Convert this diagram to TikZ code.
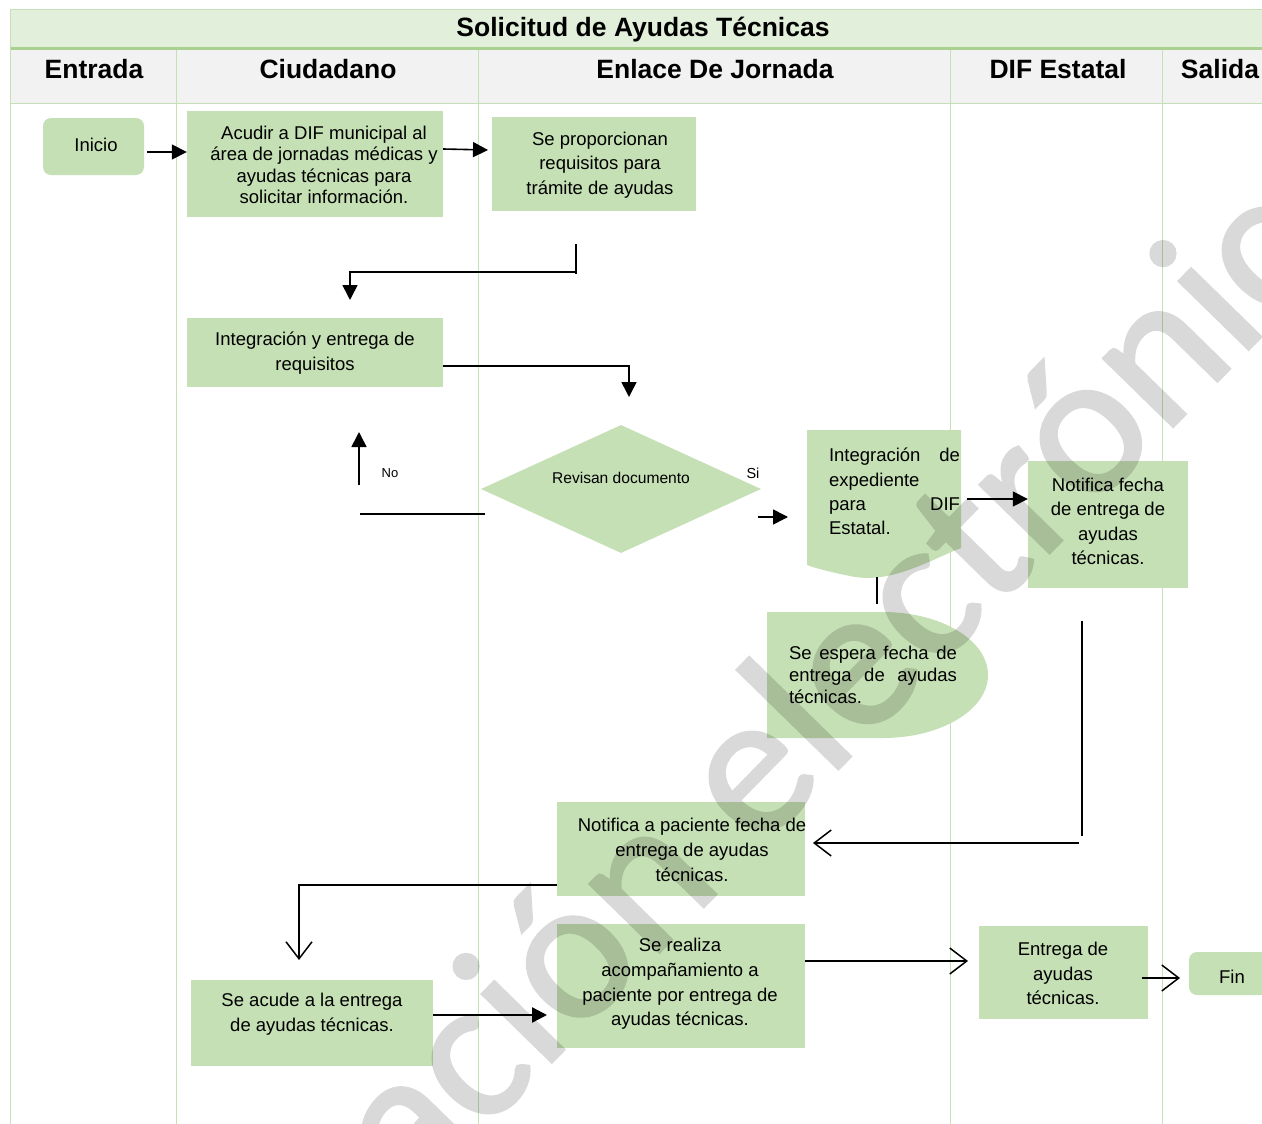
\documentclass[tikz,border=0pt]{standalone}
\usepackage{fontspec}
\setmainfont{Liberation Sans}
\newfontfamily\wmfont[FakeBold=1.3]{Carlito}
\usetikzlibrary{arrows.meta,shapes.geometric}
\definecolor{boxgreen}{HTML}{C5E0B4}
\definecolor{titlegreen}{HTML}{E2EFDA}
\definecolor{rulegreen}{HTML}{A9D08E}
\definecolor{gridgreen}{HTML}{C5E0B4}
\definecolor{headgray}{HTML}{F2F2F2}

\begin{document}
\begin{tikzpicture}[x=1pt,y=-1pt,
  box/.style={rectangle,fill=boxgreen,draw=none,inner sep=0pt},
  rbox/.style={box,rounded corners=8pt},
  txt/.style={inner sep=0pt,align=center,font=\fontsize{18.5}{24.5}\selectfont},
  head/.style={inner sep=0pt,anchor=base,font=\bfseries\fontsize{26.5}{30}\selectfont},
  grid/.style={draw=gridgreen,line width=1pt},
  ln/.style={line width=1.6pt},
  fa/.style={ln,-{Triangle[length=15pt,width=15pt]}},
  oa/.style={line width=1.5pt,-{Straight Barb[length=17pt,width=26pt]}},
  wmtext/.style={anchor=base west,rotate=45.65,inner sep=0pt,text=black,
    font=\wmfont\fontsize{204.5}{240}\selectfont},
]
\useasboundingbox (0,0) rectangle (1262,1124);
\fill[white] (0,0) rectangle (1262,1124);

% table frame: title band, header row, lane separators
\fill[titlegreen] (10,10) rectangle (1262,48);
\fill[headgray] (10,50) rectangle (1262,104);
\draw[grid] (10,10) -- (1262,10);
\draw[rulegreen,line width=3pt] (10,49) -- (1262,49);
\draw[grid] (10,104) -- (1262,104);
\draw[grid] (10,10) -- (10,1124);
\foreach \x in {176,478,950,1162} \draw[grid] (\x,50) -- (\x,1124);

\node[head] (title) at (643,37) {Solicitud de Ayudas Técnicas};
\node[head] (h1) at (94,79) {Entrada};
\node[head] (h2) at (328,79) {Ciudadano};
\node[head] (h3) at (715,79) {Enlace De Jornada};
\node[head] (h4) at (1058,79) {DIF Estatal};
\node[head] (h5) at (1220,79) {Salida};

% process boxes
\node[rbox,minimum width=101pt,minimum height=57pt] (inicio) at (93.5,146.5) {};
\node[txt] at (96,145) {Inicio};

\node[box,minimum width=256pt,minimum height=106pt] (acudir) at (315,164) {};
\node[txt,font=\fontsize{18.5}{21.3}\selectfont] at (324,165)
  {Acudir a DIF municipal al\\área de jornadas médicas y\\ayudas técnicas para\\solicitar información.};

\node[box,minimum width=204pt,minimum height=94pt] (propor) at (594,164) {};
\node[txt] at (600,165) {Se proporcionan\\requisitos para\\trámite de ayudas};

\node[box,minimum width=256pt,minimum height=69pt] (integ) at (315,352.5) {};
\node[txt,font=\fontsize{18.5}{25}\selectfont] at (315,353) {Integración y entrega de\\requisitos};

\node[diamond,fill=boxgreen,inner sep=0pt,minimum width=280pt,minimum height=128pt] (rev) at (621,489) {};
\node[inner sep=0pt,font=\fontsize{15.6}{18}\selectfont] at (621,478) {Revisan documento};
\node[inner sep=0pt,font=\fontsize{13}{15}\selectfont] (no) at (390,473) {No};
\node[inner sep=0pt,font=\fontsize{14.5}{16}\selectfont] (si) at (753,473) {Si};

% document shape
\fill[boxgreen] (807,430) -- (961,430) -- (961,548)
  .. controls (930,560) and (890,585) .. (850,576)
  .. controls (830,572) and (815,568) .. (807,565) -- cycle;
\begin{scope}
\clip (800,425) rectangle (961,600);
\node[txt,font=\fontsize{18.5}{24.3}\selectfont,align=left] (doc) at (894.5,491.5)
  {\makebox[131pt][s]{Integración de}\\expediente\\\makebox[131pt][s]{para DIF}\\Estatal.};
\end{scope}

% delay shape
\fill[boxgreen] (767,612) -- (883,612) arc[start angle=-90,end angle=90,x radius=105,y radius=63] -- (767,738) -- cycle;
\node[txt,font=\fontsize{18.5}{22}\selectfont,align=left] (espera) at (873,675)
  {\makebox[168pt][s]{Se espera fecha de}\\\makebox[168pt][s]{entrega de ayudas}\\técnicas.};

\node[box,minimum width=160pt,minimum height=127pt] (notif) at (1108,524.5) {};
\node[txt,font=\fontsize{18.5}{24.3}\selectfont] at (1108,521.5) {Notifica fecha\\de entrega de\\ayudas\\técnicas.};

\node[box,minimum width=248pt,minimum height=94pt] (notpac) at (681,849) {};
\begin{scope}
\clip (557,802) rectangle (805,896);
\node[txt,font=\fontsize{18.5}{25}\selectfont] at (692,850) {Notifica a paciente fecha de\\entrega de ayudas\\técnicas.};
\end{scope}

\node[box,minimum width=248pt,minimum height=124pt] (realiza) at (681,986) {};
\node[txt,font=\fontsize{18.5}{24.7}\selectfont] at (680,984) {Se realiza\\acompañamiento a\\paciente por entrega de\\ayudas técnicas.};

\node[box,minimum width=242pt,minimum height=86pt] (acude) at (312,1023) {};
\node[txt,font=\fontsize{18.5}{25}\selectfont] at (312,1014.5) {Se acude a la entrega\\de ayudas técnicas.};

\node[box,minimum width=169pt,minimum height=93pt] (entrega) at (1063.5,972.5) {};
\node[txt,font=\fontsize{18.5}{24.5}\selectfont] at (1063,973.5) {Entrega de\\ayudas\\técnicas.};

\node[rbox,minimum width=86pt,minimum height=43pt] (fin) at (1232,973.5) {};
\node[txt] at (1232,977) {Fin};

% connectors
\draw[fa] (147,152) -- (acudir.west |- 0,152);
\draw[fa] (acudir.east |- 0,149) -- (488,150);
\draw[ln] (576,244) -- (576,274);
\draw[fa] (576,272) -| (350,300);
\draw[fa] (integ.east |- 0,366) -| (629,397);
\draw[ln] (360,514) -- (485,514);
\draw[fa] (359,485) -- (359,432);
\draw[fa] (758,517) -- (788,517);
\draw[fa] (967,499) -- (notif.west |- 0,499);
\draw[ln] (877,577) -- (877,604);
\draw[line width=1.5pt] (1082,621) -- (1082,836);
\draw[oa] (1079,843) -- (813,843);
\draw[oa] (notpac.west |- 0,885) -| (299,960);
\draw[fa,line width=2.4pt] (acude.east |- 0,1015) -- (547,1015);
\draw[oa] (realiza.east |- 0,961) -- (968,961);
\draw[oa] (1142,978) -- (1180,978);

% diagonal watermark
\begin{scope}[transparency group,opacity=0.15]
\clip (0,0) rectangle (1262,1124);
\node[wmtext] (wm) at (412.7,1204.6) {\llap{Public}ación electrónica};
\end{scope}
\end{tikzpicture}
\end{document}
